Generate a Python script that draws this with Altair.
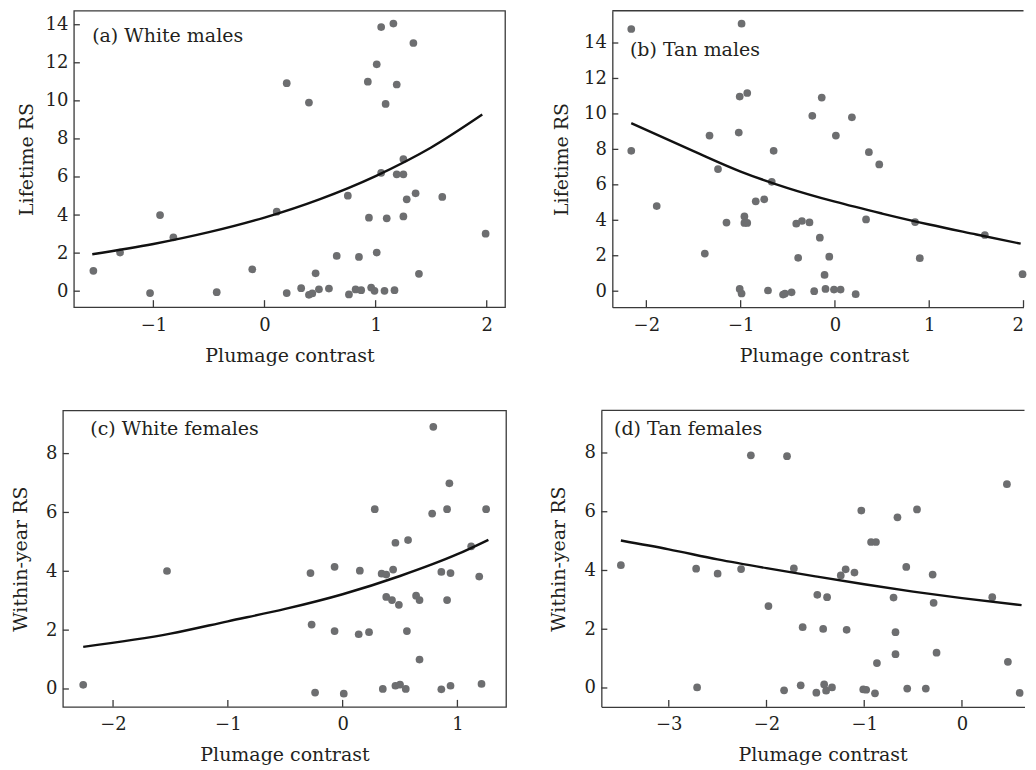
import altair as alt
import pandas as pd

# ---------------- data ----------------
# (a) White males
a_x = [-1.54, -1.30, -1.03, -0.94, -0.82, -0.43, -0.11, 0.11, 0.20, 0.20, 0.33, 0.40, 0.40, 0.43, 0.46, 0.49,
       0.58, 0.65, 0.75, 0.76, 0.82, 0.85, 0.87, 0.93, 0.94, 0.96, 0.99, 1.01, 1.01, 1.05, 1.05, 1.08, 1.09,
       1.10, 1.16, 1.17, 1.19, 1.19, 1.25, 1.25, 1.25, 1.28, 1.34, 1.36, 1.39, 1.60, 1.99]
a_y = [1.07, 2.03, -0.10, 4.00, 2.83, -0.05, 1.15, 4.18, -0.10, 10.93, 0.16, 9.91, -0.19, -0.12, 0.94, 0.10,
       0.14, 1.85, 5.02, -0.17, 0.09, 1.80, 0.05, 11.01, 3.86, 0.19, 0.02, 2.03, 11.92, 13.88, 6.22, 0.02, 9.84,
       3.83, 14.06, 0.05, 10.86, 6.14, 6.14, 6.94, 3.93, 4.83, 13.04, 5.14, 0.91, 4.95, 3.02]
a_fit_x = [-1.55, -1.0, -0.5, 0.0, 0.5, 1.0, 1.5, 1.96]
a_fit_y = [1.94, 2.48, 3.10, 3.87, 4.84, 6.05, 7.55, 9.28]

# (b) Tan males
b_x = [-2.16, -2.16, -1.89, -1.38, -1.33, -1.24, -1.15, -1.01, -1.02, -1.01, -0.99, -0.99, -0.96, -0.96, -0.93,
       -0.93, -0.84, -0.75, -0.71, -0.67, -0.65, -0.55, -0.53, -0.46, -0.41, -0.39, -0.35, -0.27, -0.24, -0.22,
       -0.16, -0.14, -0.11, -0.10, -0.06, -0.01, 0.01, 0.06, 0.18, 0.22, 0.33, 0.36, 0.47, 0.85, 0.90, 1.59, 1.99]
b_y = [14.79, 7.92, 4.80, 2.12, 8.78, 6.89, 3.87, 10.98, 8.95, 0.13, -0.13, 15.09, 4.22, 3.85, 3.85, 11.18,
       5.07, 5.18, 0.04, 6.17, 7.92, -0.19, -0.13, -0.06, 3.81, 1.88, 3.96, 3.88, 9.89, 0.00, 3.02, 10.92, 0.92,
       0.13, 1.95, 0.09, 8.78, 0.09, 9.81, -0.17, 4.05, 7.84, 7.15, 3.90, 1.86, 3.17, 0.96]
b_fit_x = [-2.16, -1.5, -1.0, -0.5, 0.0, 0.5, 1.0, 1.5, 1.97]
b_fit_y = [9.48, 7.90, 6.75, 5.82, 5.05, 4.38, 3.76, 3.20, 2.68]

# (c) White females
c_x = [-2.26, -1.53, -0.28, -0.27, -0.24, -0.07, -0.07, 0.01, 0.14, 0.15, 0.23, 0.28, 0.34, 0.35, 0.38, 0.38,
       0.43, 0.44, 0.46, 0.46, 0.49, 0.50, 0.55, 0.56, 0.57, 0.64, 0.67, 0.67, 0.78, 0.79, 0.86, 0.86, 0.91,
       0.91, 0.93, 0.94, 0.94, 1.12, 1.19, 1.21, 1.25]
c_y = [0.14, 4.01, 3.94, 2.19, -0.12, 4.15, 1.97, -0.16, 1.86, 4.02, 1.93, 6.11, 3.92, 0.00, 3.89, 3.13,
       3.02, 4.06, 0.11, 4.97, 2.86, 0.15, 0.00, 1.97, 5.06, 3.17, 3.02, 1.00, 5.96, 8.91, -0.01, 3.98, 6.11,
       3.02, 6.99, 3.94, 0.11, 4.85, 3.82, 0.17, 6.11]
c_fit_x = [-2.26, -1.5, -1.0, -0.5, 0.0, 0.5, 1.0, 1.27]
c_fit_y = [1.43, 1.88, 2.30, 2.72, 3.22, 3.84, 4.58, 5.07]

# (d) Tan females
d_x = [-3.49, -2.72, -2.71, -2.50, -2.26, -2.16, -1.98, -1.82, -1.79, -1.72, -1.65, -1.63, -1.49, -1.48, -1.42,
       -1.41, -1.39, -1.38, -1.33, -1.24, -1.19, -1.18, -1.10, -1.03, -1.01, -0.98, -0.93, -0.88, -0.89, -0.87,
       -0.70, -0.68, -0.68, -0.66, -0.57, -0.56, -0.46, -0.37, -0.30, -0.29, -0.26, 0.31, 0.46, 0.47, 0.59]
d_y = [4.18, 4.06, 0.02, 3.89, 4.05, 7.92, 2.79, -0.08, 7.89, 4.07, 0.09, 2.07, -0.16, 3.17, 2.01, 0.12,
       -0.09, 3.09, 0.02, 3.83, 4.04, 1.98, 3.93, 6.04, -0.05, -0.06, 4.97, 4.97, -0.18, 0.85, 3.08, 1.90, 1.15,
       5.81, 4.12, -0.02, 6.08, -0.02, 3.86, 2.90, 1.20, 3.09, 6.94, 0.89, -0.17]
d_fit_x = [-3.49, -3.0, -2.5, -2.0, -1.5, -1.0, -0.5, 0.0, 0.61]
d_fit_y = [5.02, 4.72, 4.38, 4.08, 3.80, 3.53, 3.28, 3.06, 2.82]

# tick values
a_xticks = [-1, 0, 1, 2]
b_xticks = [-2, -1, 0, 1, 2]
c_xticks = [-2, -1, 0, 1]
d_xticks = [-3, -2, -1, 0]
male_yticks = [0, 2, 4, 6, 8, 10, 12, 14]
female_yticks = [0, 2, 4, 6, 8]

# ---------------- styling ----------------
FONT = "DejaVu Serif"
TXT = "#231f20"
DOT = "#6d6e70"
FRAME = "#3a3a3a"
XTITLE = "Plumage contrast"


def panel(px, py, fx, fy, xdom, ydom, w, h, xticks, yticks, ytitle, label,
          lab_dx, lab_dy, ytitle_x, spacer_x, spacer_y, right_open, xtitle_y,
          xtitle_x=None):
    xs = alt.Scale(domain=xdom, nice=False, zero=False)
    ys = alt.Scale(domain=ydom, nice=False, zero=False)

    xkw = dict(orient="bottom", values=xticks, ticks=False, tickSize=0, grid=False,
               domain=right_open, domainColor=FRAME, domainWidth=1.3,
               labelPadding=9, labelFont=FONT, labelFontSize=18, labelColor=TXT,
               titleFont=FONT, titleFontSize=19, titleFontWeight="normal", titleColor=TXT,
               titleBaseline="alphabetic", titleY=xtitle_y)
    if xtitle_x is not None:
        xkw["titleX"] = xtitle_x
    if right_open:
        xkw["labelFlush"] = 8
    ykw = dict(orient="left", values=yticks, ticks=False, tickSize=0, grid=False,
               domain=right_open, domainColor=FRAME, domainWidth=1.3,
               labelPadding=6, labelFont=FONT, labelFontSize=18, labelColor=TXT,
               titleFont=FONT, titleFontSize=19, titleFontWeight="normal", titleColor=TXT,
               titleBaseline="alphabetic", titleX=ytitle_x)

    def X(field):
        return alt.X(field, type="quantitative", scale=xs, axis=alt.Axis(**xkw), title=XTITLE)

    def Y(field):
        return alt.Y(field, type="quantitative", scale=ys, axis=alt.Axis(**ykw), title=ytitle)

    pts = alt.Chart(pd.DataFrame({"x": px, "y": py})).mark_circle(
        size=60, color=DOT, opacity=1, clip=False).encode(x=X("x"), y=Y("y"))
    fit = alt.Chart(pd.DataFrame({"x": fx, "y": fy})).mark_line(
        color="#111111", strokeWidth=2.4, interpolate="monotone").encode(x=X("x"), y=Y("y"))
    xt = alt.Chart(pd.DataFrame({"x": xticks})).mark_rule(color=FRAME, strokeWidth=1.3).encode(
        x=X("x"), y=alt.value(h), y2=alt.value(h - 7))
    yt = alt.Chart(pd.DataFrame({"y": yticks})).mark_rule(color=FRAME, strokeWidth=1.3).encode(
        y=Y("y"), x=alt.value(0), x2=alt.value(6))
    lab = alt.Chart(pd.DataFrame({"t": [label]})).mark_text(
        align="left", baseline="alphabetic", font=FONT, fontSize=19, color=TXT).encode(
        x=alt.value(lab_dx), y=alt.value(lab_dy), text="t:N")
    spacer = alt.Chart(pd.DataFrame({"s": [0]})).mark_point(size=1, opacity=0).encode(
        x=alt.value(spacer_x), y=alt.value(spacer_y))
    layers = [pts, fit, xt, yt, lab, spacer]
    if right_open:
        top = alt.Chart(pd.DataFrame({"s": [0]})).mark_rule(color=FRAME, strokeWidth=1.3).encode(
            x=alt.value(0), x2=alt.value(w), y=alt.value(0))
        layers.append(top)
        view = alt.ViewBackground(stroke="transparent")
    else:
        view = alt.ViewBackground(stroke=FRAME, strokeWidth=1.3)
    return alt.layer(*layers).properties(width=w, height=h, view=view)


H1 = 297
H2 = 297
pa = panel(a_x, a_y, a_fit_x, a_fit_y, [-1.7156, 2.1647], [-0.839, 14.735], 432, H1,
           a_xticks, male_yticks, "Lifetime RS", "(a) White males", 18.3, 31.7, -41.7,
           -64.2, H1 + 62, False, 54)
pb = panel(b_x, b_y, b_fit_x, b_fit_y, [-2.361, 2.0], [-0.90, 15.82], 412, H1,
           b_xticks, male_yticks, "Lifetime RS", "(b) Tan males", 17.7, 45, -45,
           -64, H1 + 62, True, 54, xtitle_x=212)
pc = panel(c_x, c_y, c_fit_x, c_fit_y, [-2.437, 1.4235], [-0.608, 9.466], 444, H2,
           c_xticks, female_yticks, "Within-year RS", "(c) White females", 27.4, 25, -36.6,
           -52.5, H2, False, 54)
pd_ = panel(d_x, d_y, d_fit_x, d_fit_y, [-3.690, 0.640], [-0.643, 9.448], 424, H2,
            d_xticks, female_yticks, "Within-year RS", "(d) Tan females", 12.7, 25, -36.6,
            -64, H2, True, 54, xtitle_x=221.7)

# an empty 1px view that lets panel (a) sit further right than panel (c)
shim = alt.Chart(pd.DataFrame({"s": []})).mark_point(opacity=0).encode(
    x=alt.value(0), y=alt.value(0)
).properties(width=1, height=1, view=alt.ViewBackground(stroke="transparent"))

row1 = alt.hconcat(alt.hconcat(shim, pa, spacing=-57), pb, spacing=40.5)
row2 = alt.hconcat(pc, pd_, spacing=28.5)
chart = alt.vconcat(row1, row2, spacing=37.5).properties(
    padding={"left": 0, "top": 0, "right": 0, "bottom": 0}
).configure_view(stroke=FRAME, strokeWidth=1.3)

chart.save("out.html", embed_options={"renderer": "svg", "actions": False})
